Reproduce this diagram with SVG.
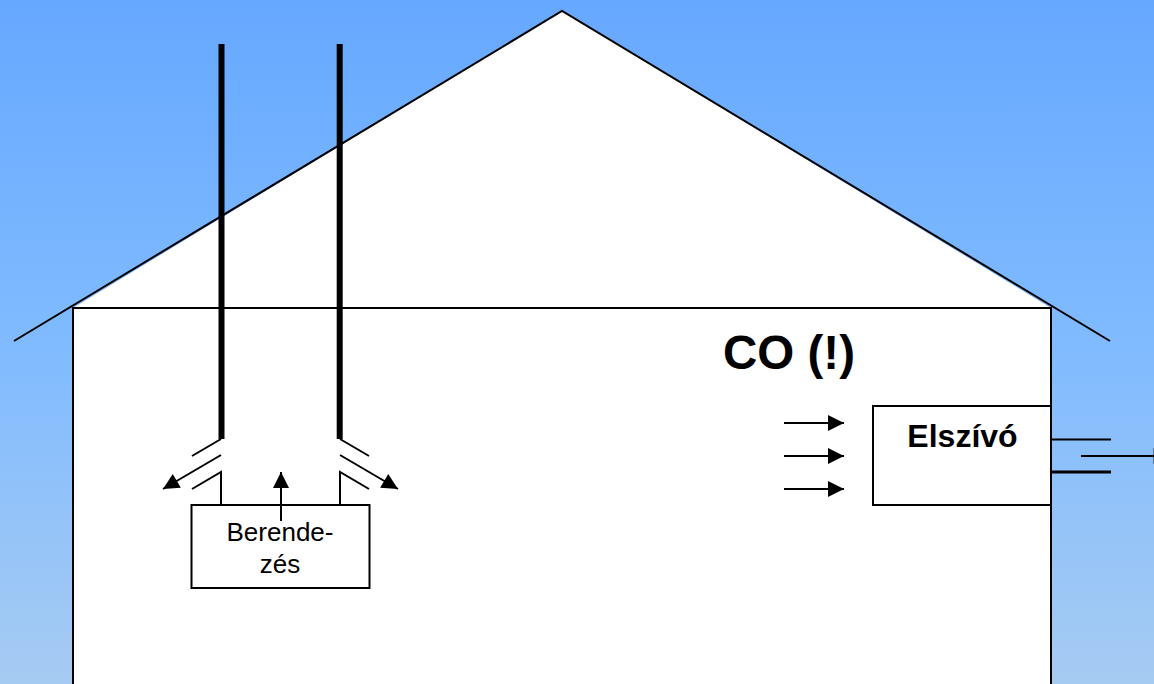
<svg xmlns="http://www.w3.org/2000/svg" width="1154" height="684" viewBox="0 0 1154 684">
<style>
.l{stroke:#000;stroke-width:2;fill:none}
.t{stroke:#000;stroke-width:6;fill:none}
.b{fill:#fff;stroke:#000;stroke-width:2}
.a{stroke:#000;stroke-width:2;fill:none;marker-end:url(#arr)}
text{font-family:"Liberation Sans",Arial,sans-serif;fill:#000;text-anchor:middle}
</style>
<defs>
<linearGradient id="sky" x1="0" y1="0" x2="0" y2="1"><stop offset="0" stop-color="#66a8ff"/><stop offset="0.5" stop-color="#80bbff"/><stop offset="1" stop-color="#a6cbf2"/></linearGradient>
<marker id="arr" markerUnits="userSpaceOnUse" markerWidth="18" markerHeight="18" refX="17" refY="8" orient="auto" viewBox="0 0 18 16"><path d="M1 0L17 8L1 16Z" fill="#000"/></marker>
</defs>
<rect width="1154" height="684" fill="url(#sky)"/>
<g id="house">
<path d="M73 308L562 11L1051 308Z" fill="#fff"/>
<rect x="73" y="308" width="978" height="377" class="b"/>
<path d="M14 341L562 11L1110 341" class="l"/>
</g>
<g id="connectors">
<path d="M221.500 44V439M339.700 44V439" class="t"/>
<path d="M221 439L192 456M221 505V472L192 489M340 439L369 456M340 505V472L369 489" class="l"/>
<path d="M221 455L163 489" class="a"/>
<path d="M340 455L398 489" class="a"/>
<path d="M281 521V472" class="a"/>
<path d="M784 423H844" class="a"/>
<path d="M784 456H844" class="a"/>
<path d="M784 489H844" class="a"/>
<path d="M1051 439.500H1111" class="l"/>
<path d="M1051 472H1111" class="l" style="stroke-width:3"/>
<path d="M1081 456H1169.600" class="a"/>
</g>
<g id="berendezes">
<rect x="191.500" y="505" width="178" height="83" class="b"/>
<path d="M281 521V490" class="l"/>
<text x="280" y="541" font-size="26">Berende-</text>
<text x="280" y="573" font-size="26">zés</text>
</g>
<g id="elszivo">
<rect x="873" y="406" width="178" height="99" class="b"/>
<text x="962.500" y="447" font-size="32" font-weight="bold">Elszívó</text>
</g>
<g id="co"><text x="789" y="369" font-size="47.500" font-weight="bold">CO (!)</text></g>
</svg>
